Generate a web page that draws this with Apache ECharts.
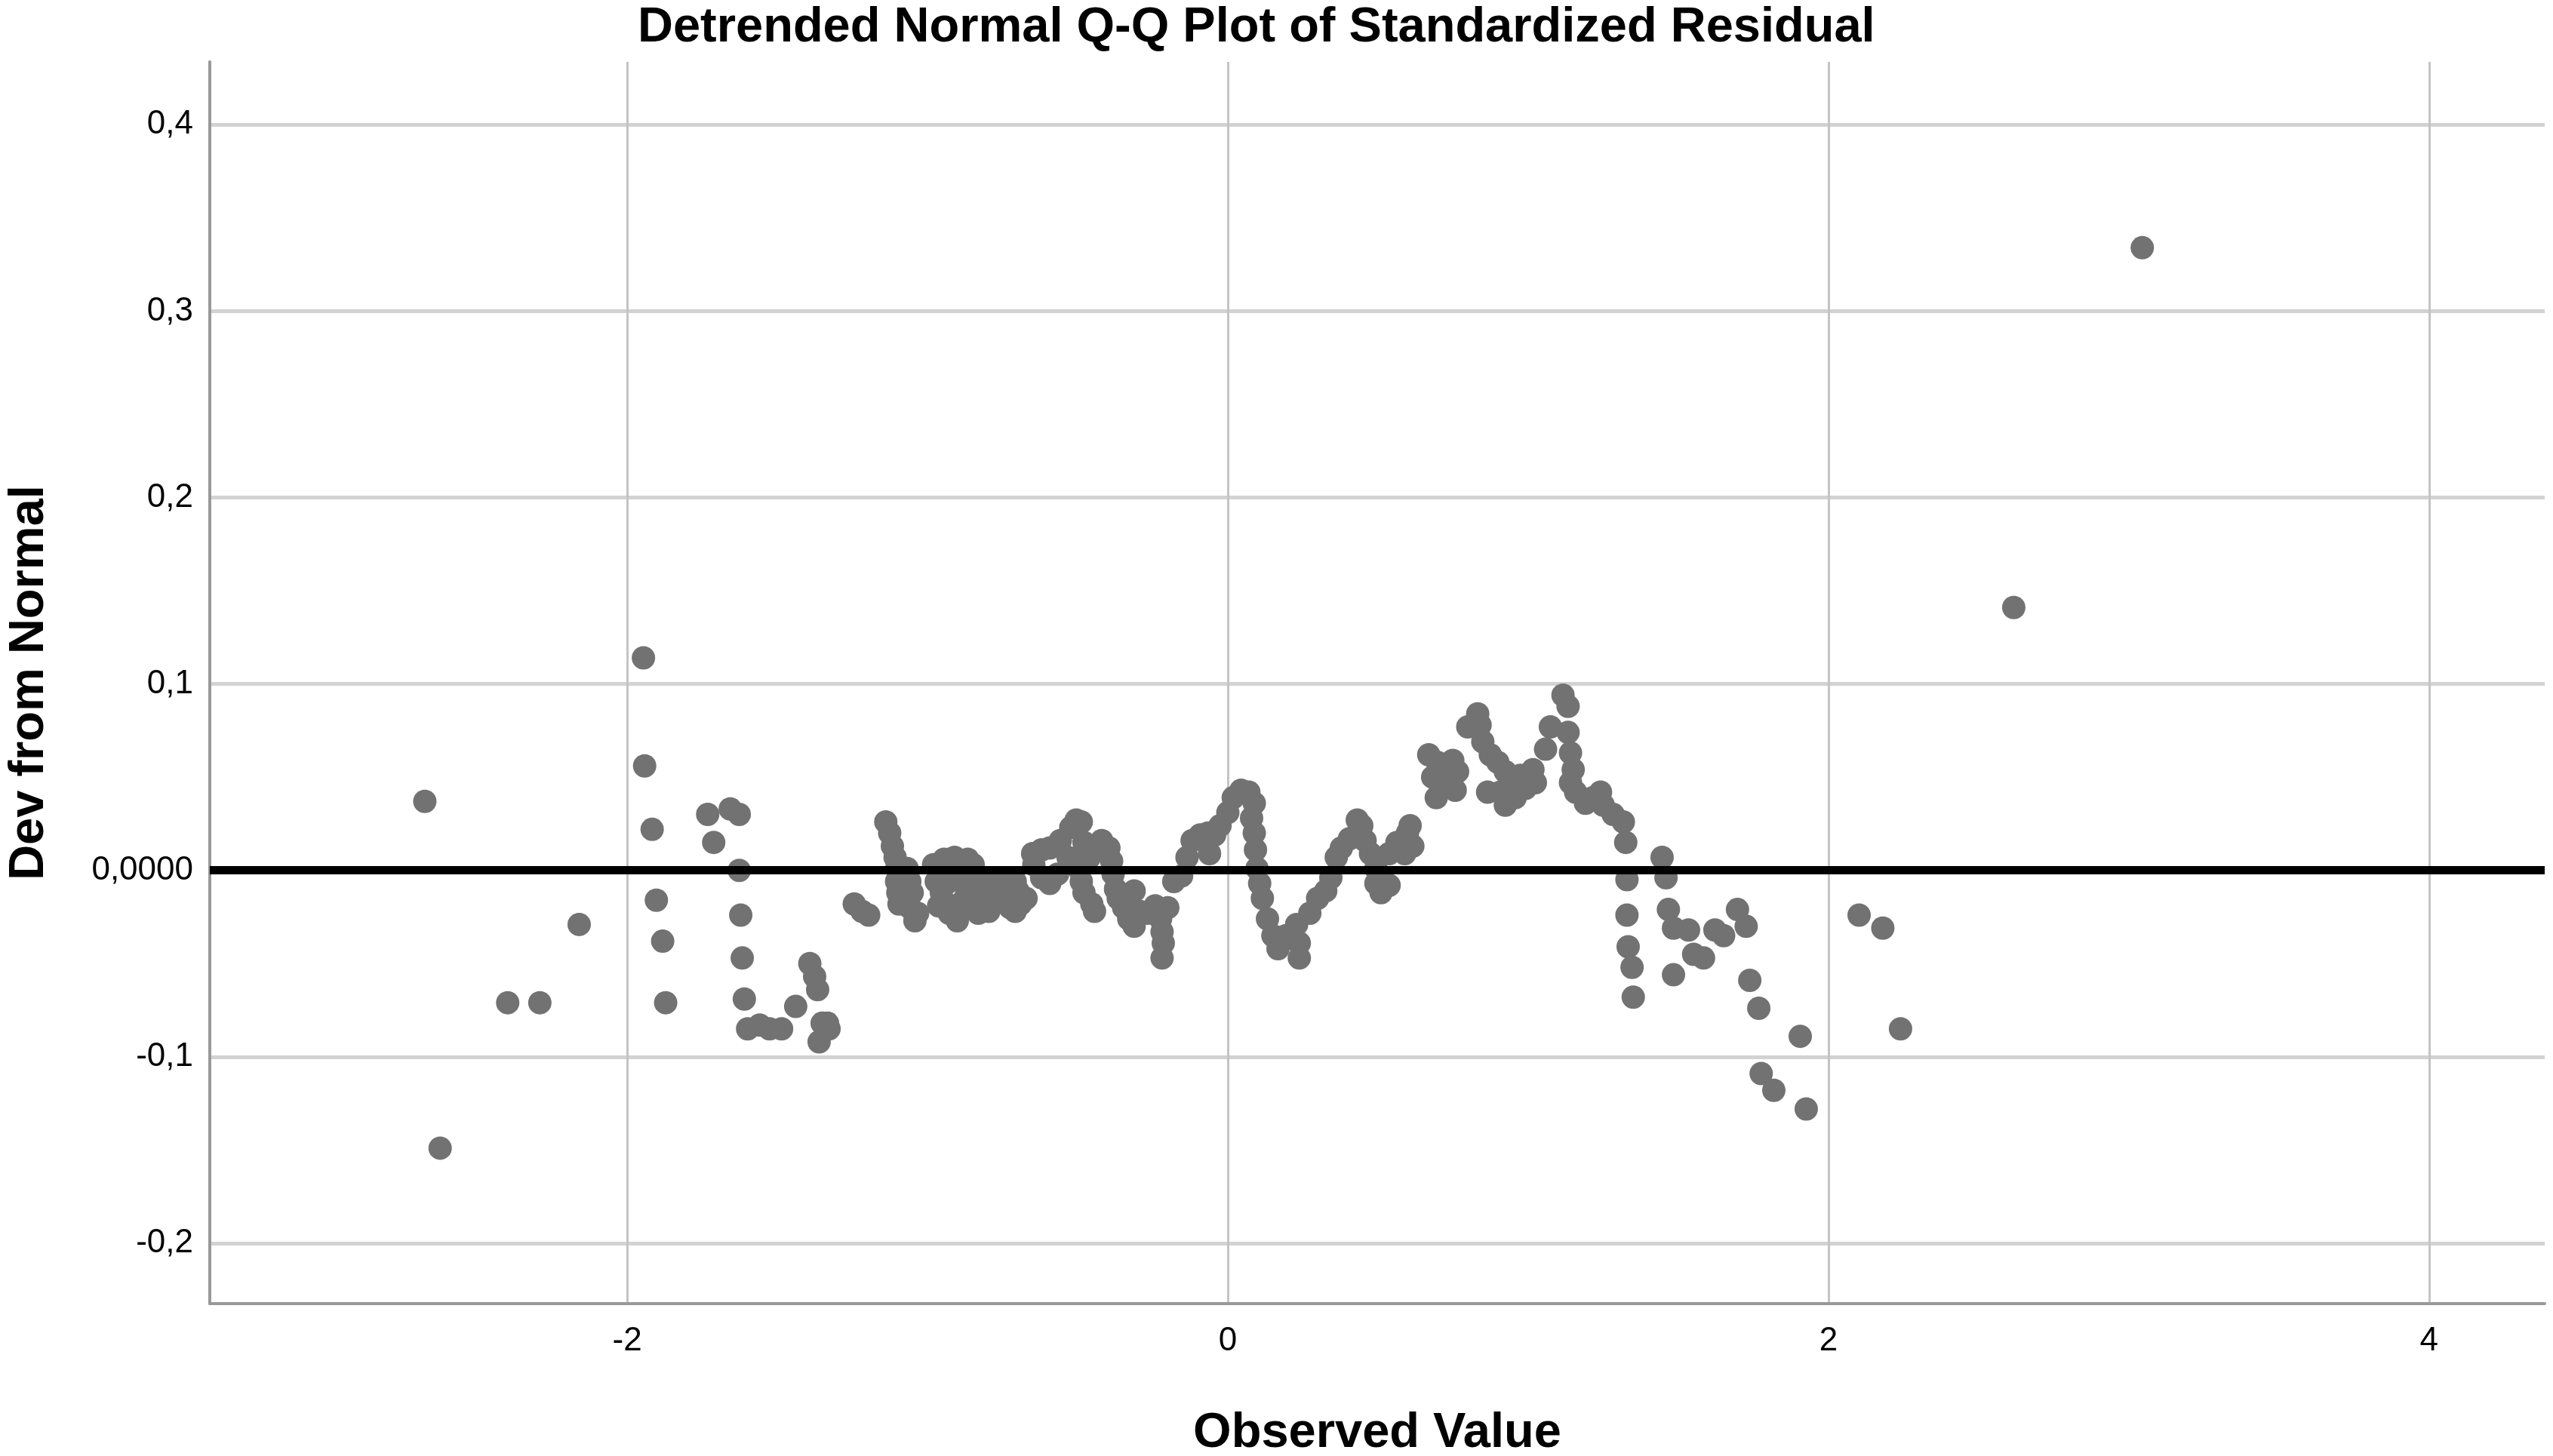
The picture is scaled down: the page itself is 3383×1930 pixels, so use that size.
<!DOCTYPE html>
<html>
<head>
<meta charset="utf-8">
<title>Detrended Normal Q-Q Plot</title>
<script src="https://cdn.jsdelivr.net/npm/echarts@6.0.0/dist/echarts.min.js"></script>
<style>
  html, body { margin: 0; padding: 0; background: #ffffff; }
  #chart { width: 3383px; height: 1930px; }
</style>
</head>
<body>
<div id="chart"></div>
<script>
// observed standardized residual (x) and deviation from normal (y)
const observed = [
  -2.674, -2.623, -2.398, -2.291, -2.160, -1.946, -1.942, -1.917, -1.903, -1.882,
  -1.872, -1.732, -1.712, -1.657, -1.627, -1.627, -1.622, -1.617, -1.610, -1.599,
  -1.559, -1.526, -1.486, -1.439, -1.392, -1.376, -1.366, -1.361, -1.351, -1.333,
  -1.328,
  -1.244, -1.218, -1.196, -1.139, -1.126, -1.117, -1.108, -1.103, -1.103, -1.099,
  -1.095, -1.068, -1.059, -1.051, -1.059, -1.042, -1.033, -0.980, -0.971, -0.963,
  -0.954, -0.945, -0.928, -0.928, -0.910, -0.910, -0.901, -0.884, -0.875, -0.866,
  -0.857, -0.848, -0.840, -0.831, -0.831, -0.796, -0.796, -0.787, -0.778, -0.752,
  -0.752, -0.725, -0.725, -0.708, -0.708, -0.699, -0.690, -0.672, -0.650, -0.646,
  -0.620, -0.620, -0.593, -0.593, -0.567, -0.558, -0.532, -0.523, -0.505, -0.497,
  -0.488, -0.488, -0.479, -0.479, -0.461, -0.453, -0.444, -0.420, -0.396, -0.387,
  -0.382, -0.374, -0.365, -0.347, -0.330, -0.312, -0.312, -0.294, -0.268, -0.242,
  -0.224, -0.219, -0.215, -0.219, -0.200, -0.180, -0.154, -0.136, -0.119, -0.092,
  -0.066,
  -0.061, -0.044, -0.026, 0.000, 0.018, 0.044, 0.070, 0.088, 0.079, 0.088,
  0.092, 0.097, 0.106, 0.115, 0.132, 0.150, 0.167, 0.194, 0.229, 0.238,
  0.238, 0.273, 0.299, 0.326, 0.343, 0.361, 0.378, 0.405, 0.431, 0.446,
  0.457, 0.475, 0.493, 0.493, 0.510, 0.537, 0.537, 0.563, 0.589, 0.598,
  0.607, 0.616,
  0.669, 0.682, 0.694, 0.698, 0.724, 0.749, 0.757, 0.765, 0.799, 0.832,
  0.840, 0.849, 0.865, 0.874, 0.899, 0.907, 0.924, 0.924, 0.949, 0.957,
  0.974, 0.991, 1.016, 1.024, 1.058, 1.074, 1.116, 1.133, 1.133, 1.141,
  1.150, 1.141, 1.158, 1.191, 1.216, 1.241, 1.250, 1.283, 1.317, 1.325,
  1.329, 1.329, 1.333, 1.346, 1.350, 1.446, 1.459, 1.467, 1.484, 1.484,
  1.534, 1.551, 1.584, 1.622, 1.651, 1.697, 1.726, 1.738, 1.768, 1.776,
  1.818, 1.906, 1.926, 2.102, 2.181, 2.240, 2.617, 3.045
];
const deviation = [
  0.037, -0.149, -0.071, -0.071, -0.029, 0.114, 0.056, 0.022, -0.016, -0.038,
  -0.071, 0.030, 0.015, 0.033, 0.030, 0.000, -0.024, -0.047, -0.069, -0.085,
  -0.083, -0.085, -0.085, -0.073, -0.050, -0.057, -0.064, -0.092, -0.082, -0.082,
  -0.085,
  -0.018, -0.022, -0.024, 0.026, 0.020, 0.013, 0.007, 0.001, -0.006, -0.012,
  -0.018, 0.001, -0.006, -0.012, -0.020, -0.027, -0.023, 0.003, -0.006, -0.019,
  -0.012, 0.006, -0.023, -0.006, 0.007, -0.019, -0.027, -0.006, -0.015, 0.006,
  -0.020, 0.003, -0.006, -0.012, -0.023, -0.022, -0.006, -0.015, -0.010, -0.012,
  -0.004, -0.020, -0.004, -0.022, -0.006, -0.011, -0.018, -0.015, 0.009, 0.003,
  0.011, -0.004, 0.012, -0.007, -0.002, 0.016, 0.007, 0.023, 0.027, 0.001,
  0.026, -0.006, 0.015, -0.012, 0.007, -0.018, -0.022, 0.016, 0.012, 0.005,
  -0.002, -0.010, -0.015, -0.020, -0.026, -0.030, -0.011, -0.022, -0.023, -0.019,
  -0.026, -0.033, -0.039, -0.047, -0.020, -0.006, -0.003, 0.007, 0.016, 0.019,
  0.020,
  0.009, 0.019, 0.024, 0.031, 0.039, 0.043, 0.042, 0.036, 0.028, 0.020,
  0.011, 0.001, -0.007, -0.015, -0.026, -0.035, -0.042, -0.035, -0.029, -0.039,
  -0.047, -0.023, -0.015, -0.011, -0.004, 0.007, 0.012, 0.017, 0.027, 0.024,
  0.016, 0.009, 0.001, -0.007, -0.012, -0.008, 0.009, 0.015, 0.009, 0.020,
  0.024, 0.013,
  0.062, 0.050, 0.039, 0.058, 0.049, 0.059, 0.043, 0.053, 0.077, 0.084,
  0.078, 0.069, 0.042, 0.062, 0.058, 0.042, 0.053, 0.035, 0.049, 0.039,
  0.051, 0.044, 0.054, 0.047, 0.065, 0.077, 0.094, 0.088, 0.074, 0.063,
  0.054, 0.047, 0.042, 0.036, 0.039, 0.042, 0.035, 0.030, 0.026, 0.015,
  -0.005, -0.024, -0.041, -0.052, -0.068, 0.007, -0.004, -0.021, -0.031, -0.056,
  -0.032, -0.045, -0.047, -0.032, -0.035, -0.021, -0.030, -0.059, -0.074, -0.109,
  -0.118, -0.089, -0.128, -0.024, -0.031, -0.085, 0.141, 0.334
];

// tick positions
const xTicks = [-2, 0, 2, 4];
const yTicks = [-0.2, -0.1, 0, 0.1, 0.2, 0.3, 0.4];

const chart = echarts.init(document.getElementById('chart'));

const points = observed.map((v, i) => [v, deviation[i]]);

chart.setOption({
  backgroundColor: '#ffffff',
  animation: false,
  title: {
    text: 'Detrended Normal Q-Q Plot of Standardized Residual',
    left: 845,
    top: 5,
    padding: 0,
    textStyle: {
      fontFamily: 'Liberation Sans, Arial, sans-serif',
      fontWeight: 'bold',
      fontSize: 65,
      color: '#000000'
    }
  },
  grid: {
    left: 278,
    right: 11,
    top: 82,
    bottom: 202,
    containLabel: false,
    outerBoundsMode: 'none'
  },
  xAxis: {
    type: 'value',
    min: -3.39,
    max: 4.385,
    name: 'Observed Value',
    nameLocation: 'middle',
    nameGap: 140,
    nameTextStyle: {
      fontFamily: 'Liberation Sans, Arial, sans-serif',
      fontWeight: 'bold',
      fontSize: 65,
      color: '#000000'
    },
    axisLine: { show: true, onZero: false, lineStyle: { color: '#999999', width: 4 } },
    axisTick: { show: false, customValues: xTicks },
    axisLabel: {
      customValues: xTicks,
      margin: 28,
      fontFamily: 'Liberation Sans, Arial, sans-serif',
      fontSize: 44,
      color: '#000000',
      formatter: (v) => String(v)
    },
    splitLine: { show: true, lineStyle: { color: '#c4c4c4', width: 3 } }
  },
  yAxis: {
    type: 'value',
    min: -0.2324,
    max: 0.4337,
    name: 'Dev from Normal',
    nameLocation: 'middle',
    nameGap: 206,
    nameTextStyle: {
      fontFamily: 'Liberation Sans, Arial, sans-serif',
      fontWeight: 'bold',
      fontSize: 65,
      color: '#000000'
    },
    axisLine: { show: true, onZero: false, lineStyle: { color: '#999999', width: 4 } },
    axisTick: { show: false, customValues: yTicks },
    axisLabel: {
      customValues: yTicks,
      margin: 22,
      padding: [12, 0, 0, 0],
      fontFamily: 'Liberation Sans, Arial, sans-serif',
      fontSize: 44,
      color: '#000000',
      formatter: (v) => (v === 0 ? '0,0000' : v.toFixed(1).replace('.', ','))
    },
    splitLine: { show: true, lineStyle: { color: '#d2d2d2', width: 5 } }
  },
  series: [
    {
      type: 'scatter',
      data: points,
      symbol: 'circle',
      symbolSize: 31,
      itemStyle: { color: '#727272', opacity: 1 },
      markLine: {
        silent: true,
        symbol: 'none',
        label: { show: false },
        lineStyle: { color: '#000000', width: 11, type: 'solid' },
        data: [{ yAxis: 0 }]
      }
    }
  ]
});
</script>
</body>
</html>
